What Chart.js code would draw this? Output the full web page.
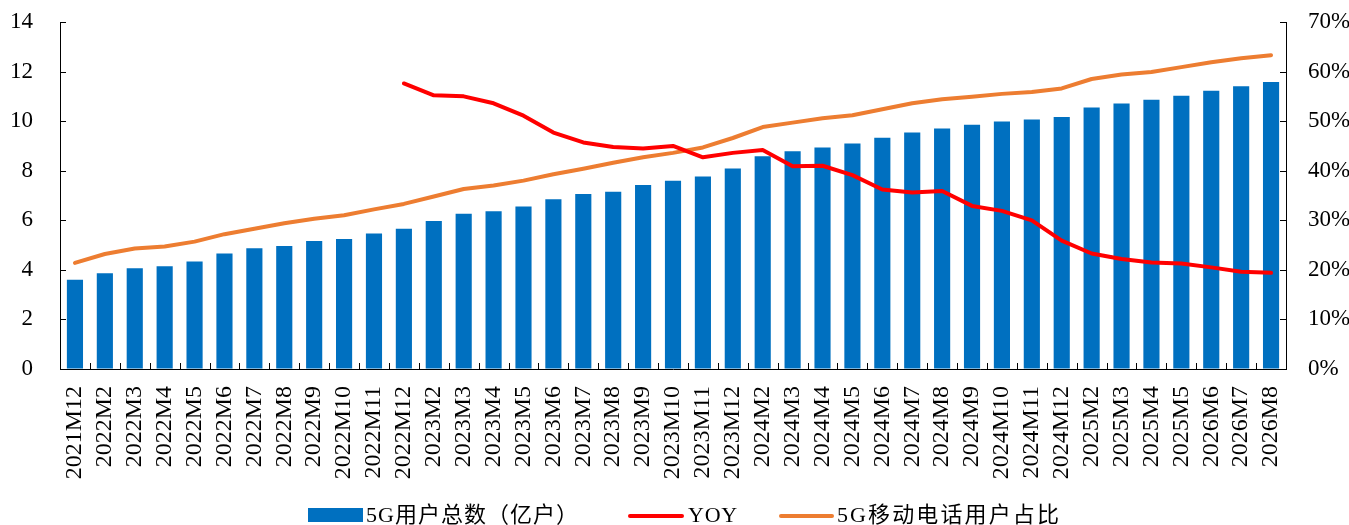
<!DOCTYPE html>
<html>
<head>
<meta charset="utf-8">
<script src="https://cdn.jsdelivr.net/npm/chart.js@4.4.1/dist/chart.umd.min.js"></script>
<style>
html,body{margin:0;padding:0;background:#fff;}
#wrap{width:1349px;height:525px;}
</style>
</head>
<body>
<div id="wrap"><canvas id="c" width="1349" height="525"></canvas></div>
<script>
const categories = ["2021M12","2022M2","2022M3","2022M4","2022M5","2022M6","2022M7","2022M8","2022M9","2022M10","2022M11","2022M12",
"2023M2","2023M3","2023M4","2023M5","2023M6","2023M7","2023M8","2023M9","2023M10","2023M11","2023M12",
"2024M2","2024M3","2024M4","2024M5","2024M6","2024M7","2024M8","2024M9","2024M10","2024M11","2024M12",
"2025M2","2025M3","2025M4","2025M5","2026M6","2026M7","2026M8"];

const users5G = [3.60,3.86,4.06,4.15,4.34,4.66,4.87,4.96,5.16,5.25,5.47,5.66,
5.97,6.26,6.36,6.56,6.85,7.06,7.15,7.42,7.60,7.77,8.09,
8.58,8.79,8.94,9.10,9.33,9.54,9.70,9.85,9.99,10.07,10.17,
10.55,10.71,10.86,11.02,11.23,11.41,11.58];

const yoy = [null,null,null,null,null,null,null,null,null,null,null,57.6,
55.2,55.0,53.6,51.1,47.7,45.7,44.8,44.5,45.0,42.7,43.6,
44.2,40.9,41.0,39.1,36.2,35.6,35.9,32.9,31.9,30.0,25.9,
23.3,22.2,21.5,21.3,20.5,19.6,19.4];

const share5G = [21.4,23.2,24.3,24.7,25.7,27.2,28.3,29.4,30.3,31.0,32.2,33.3,
34.8,36.3,37.0,38.0,39.3,40.4,41.6,42.7,43.6,44.7,46.6,
48.8,49.7,50.6,51.2,52.4,53.6,54.4,54.9,55.5,55.9,56.6,
58.5,59.4,59.9,60.9,61.9,62.7,63.3];

const leftTicks = [0,2,4,6,8,10,12,14];
const rightTicks = [0,10,20,30,40,50,60,70];

const seriesNames = ["5G用户总数（亿户）","YOY","5G移动电话用户占比"];
const colors = {bar:"#0070C0", yoy:"#FF0000", share:"#ED7D31"};

const FONT = "'Liberation Serif','Times New Roman','Noto Sans CJK SC',serif";

const innerTicks = {
  id:'innerTicks',
  afterDatasetsDraw(chart){
    const ctx = chart.ctx, a = chart.chartArea;
    const x = chart.scales.x, y = chart.scales.y, y1 = chart.scales.y1;
    ctx.save();
    ctx.strokeStyle = '#000'; ctx.lineWidth = 1;
    ctx.beginPath();
    leftTicks.forEach(v=>{ const py = Math.round(y.getPixelForValue(v))+0.5; ctx.moveTo(a.left, py); ctx.lineTo(a.left+6, py); });
    rightTicks.forEach(v=>{ const py = Math.round(y1.getPixelForValue(v))+0.5; ctx.moveTo(a.right, py); ctx.lineTo(a.right-6, py); });
    for(let i=1;i<categories.length;i++){
      const px = Math.round((x.getPixelForValue(i-1)+x.getPixelForValue(i))/2)+0.5;
      ctx.moveTo(px, a.bottom); ctx.lineTo(px, a.bottom-6);
    }
    ctx.stroke();
    ctx.restore();
  }
};

function fitText(ctx, text, x, y, targetW){
  ctx.letterSpacing = '0px';
  const w = ctx.measureText(text).width;
  const n = [...text].length;
  const sp = n > 1 ? (targetW - w) / n : 0;
  ctx.letterSpacing = sp.toFixed(2) + 'px';
  ctx.fillText(text, x, y);
  ctx.letterSpacing = '0px';
}

const customLegend = {
  id:'customLegend',
  afterDraw(chart){
    const ctx = chart.ctx;
    ctx.save();
    ctx.font = "22px " + FONT;
    ctx.textBaseline = 'middle';
    const cy = 516;
    ctx.fillStyle = colors.bar;
    ctx.fillRect(308, 508, 55, 14);
    ctx.fillStyle = '#000';
    fitText(ctx, seriesNames[0], 366, cy, 213);
    ctx.strokeStyle = colors.yoy; ctx.lineWidth = 4; ctx.lineCap='round';
    ctx.beginPath(); ctx.moveTo(630, cy); ctx.lineTo(682, cy); ctx.stroke();
    fitText(ctx, seriesNames[1], 688, cy, 50);
    ctx.strokeStyle = colors.share;
    ctx.beginPath(); ctx.moveTo(781, cy); ctx.lineTo(832, cy); ctx.stroke();
    fitText(ctx, seriesNames[2], 837, cy, 224);
    ctx.restore();
  }
};

function fixVertical(w){
  return function(s){ s.width = w; s.paddingTop = 0; s.paddingBottom = 0; };
}

new Chart(document.getElementById('c'), {
  data: {
    labels: categories,
    datasets: [
      {type:'line', label:seriesNames[1], data:yoy, yAxisID:'y1', borderColor:colors.yoy, borderWidth:4, pointRadius:0, tension:0, order:1, borderCapStyle:'round', borderJoinStyle:'round'},
      {type:'line', label:seriesNames[2], data:share5G, yAxisID:'y1', borderColor:colors.share, borderWidth:4, pointRadius:0, tension:0, order:2, borderCapStyle:'round', borderJoinStyle:'round'},
      {type:'bar', label:seriesNames[0], data:users5G, yAxisID:'y', backgroundColor:colors.bar, barPercentage:0.54, categoryPercentage:1.0, order:3}
    ]
  },
  options: {
    responsive:false,
    animation:false,
    devicePixelRatio:1,
    layout:{padding:{top:22, bottom:0, left:0, right:0}},
    plugins:{legend:{display:false}, tooltip:{enabled:false}},
    scales:{
      x:{
        grid:{display:true, drawOnChartArea:false, drawTicks:false},
        border:{display:true, color:'#000', width:1},
        ticks:{minRotation:90, maxRotation:90, autoSkip:false, padding:17, color:'#000', font:{family:FONT, size:24}},
        afterFit(s){ s.height = 156; s.paddingLeft = 0; s.paddingRight = 0; }
      },
      y:{
        position:'left', min:0, max:14,
        grid:{display:true, drawOnChartArea:false, drawTicks:false},
        border:{display:true, color:'#000', width:1},
        afterBuildTicks(s){ s.ticks = leftTicks.map(v=>({value:v})); },
        ticks:{padding:27, color:'#000', font:{family:FONT, size:23}},
        afterFit: fixVertical(60)
      },
      y1:{
        position:'right', min:0, max:70,
        grid:{display:true, drawOnChartArea:false, drawTicks:false},
        border:{display:true, color:'#000', width:1},
        afterBuildTicks(s){ s.ticks = rightTicks.map(v=>({value:v})); },
        ticks:{padding:22, color:'#000', font:{family:FONT, size:23}, callback:(v)=>v+'%'},
        afterFit: fixVertical(63)
      }
    }
  },
  plugins:[innerTicks, customLegend]
});
</script>
</body>
</html>
